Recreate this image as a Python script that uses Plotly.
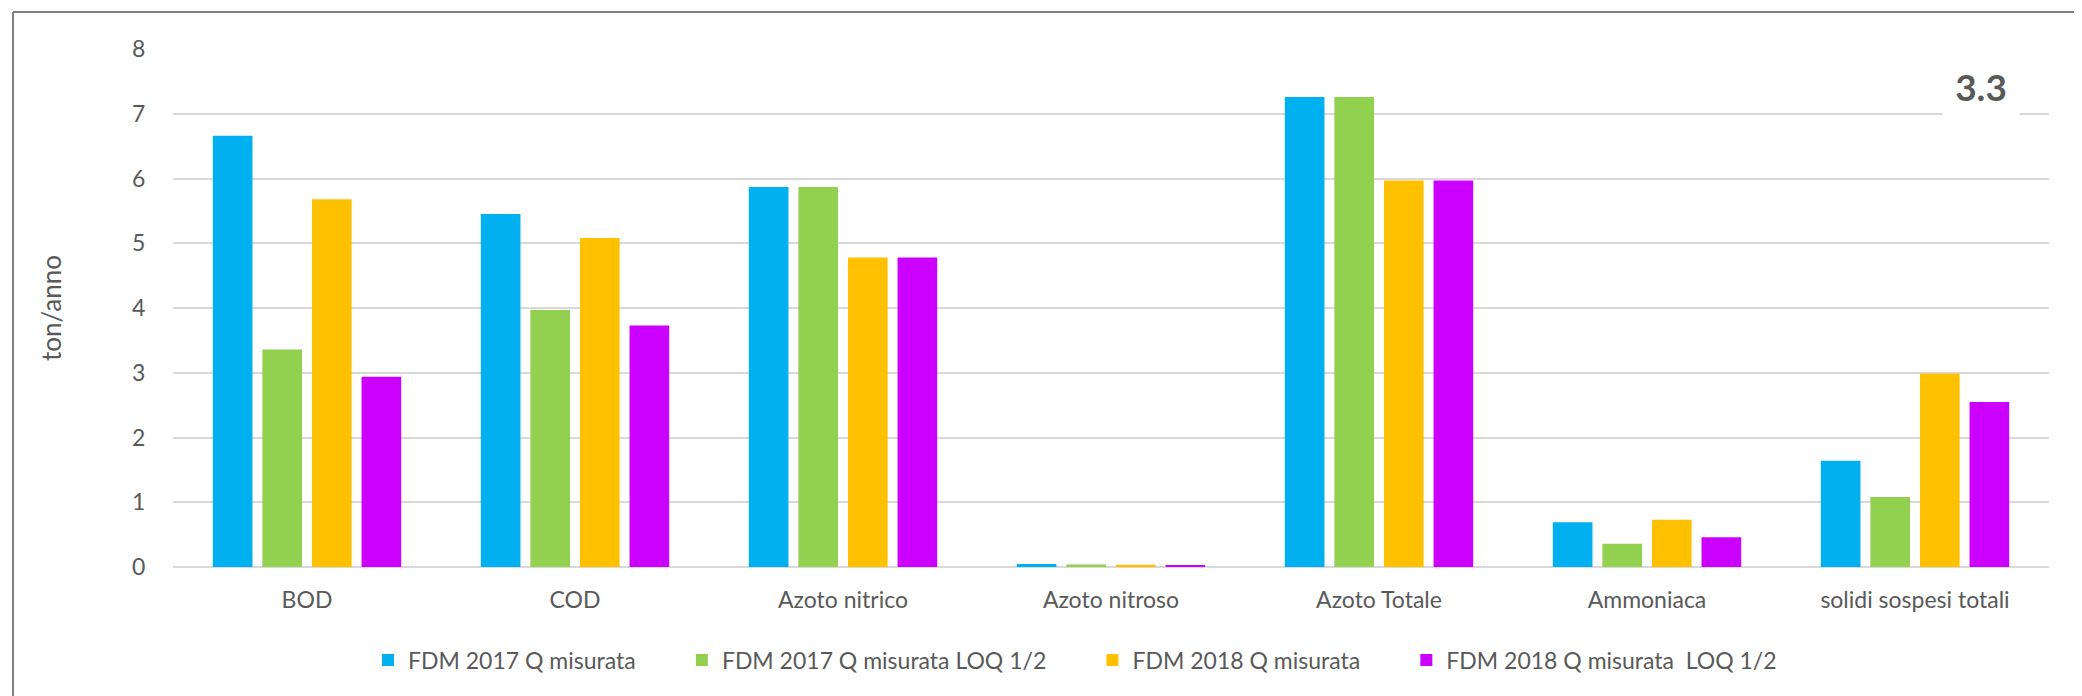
import plotly.graph_objects as go

categories = ["BOD", "COD", "Azoto nitrico", "Azoto nitroso", "Azoto Totale", "Ammoniaca", "solidi sospesi totali"]
series_names = ["FDM 2017 Q misurata", "FDM 2017 Q misurata LOQ 1/2", "FDM 2018 Q misurata", "FDM 2018 Q misurata\u00a0 LOQ 1/2"]
fdm2017 = [6.66, 5.45, 5.87, 0.045, 7.26, 0.69, 1.64]
fdm2017_loq = [3.36, 3.97, 5.87, 0.04, 7.26, 0.36, 1.08]
fdm2018 = [5.68, 5.08, 4.78, 0.035, 5.97, 0.73, 2.99]
fdm2018_loq = [2.94, 3.73, 4.78, 0.03, 5.97, 0.46, 2.55]
colors = ["#00B0F0", "#92D050", "#FFC000", "#CC00FF"]
y_ticks = [0, 1, 2, 3, 4, 5, 6, 7, 8]
badge_text = "3.3"

FONT = "Lato"
TXT = "#595959"
PAD = "\u00a0" * 7  # extra spacing between legend entries

fig = go.Figure()
n_series = len(series_names)
for i, (name, vals, col) in enumerate(zip(series_names, [fdm2017, fdm2017_loq, fdm2018, fdm2018_loq], colors)):
    label = name + (PAD if i < n_series - 1 else "")
    fig.add_trace(go.Bar(x=categories, y=vals, name=label, marker=dict(color=col, line=dict(width=0))))

# page body has an 8px margin; work in page coordinates and convert
OFF = 8
W, H = 2082, 696
plot_left, plot_right, plot_top, plot_bottom = 173, 2049, 49, 567  # page px
ml = plot_left - OFF
mt = plot_top - OFF
mr = W - (plot_right - OFF)
mb = H - (plot_bottom - OFF)
pw, ph = plot_right - plot_left, plot_bottom - plot_top

def px_x(x):
    return (x - plot_left) / pw

def px_y(y):
    return (plot_bottom - y) / ph

fig.update_layout(
    width=W, height=H,
    margin=dict(l=ml, r=mr, t=mt, b=mb),
    paper_bgcolor="white", plot_bgcolor="white",
    font=dict(family=FONT, size=23, color=TXT),
    barmode="group", bargap=0.26, bargroupgap=0.2,
    showlegend=True,
    legend=dict(orientation="h", xref="container", yref="container",
                x=(1075 - OFF) / W, xanchor="center",
                y=1 - (660 - OFF) / H, yanchor="middle", font=dict(size=23, color=TXT),
                traceorder="normal"),
    xaxis=dict(showgrid=False, showline=False, ticks="outside", ticklen=12,
               tickcolor="rgba(0,0,0,0)", tickfont=dict(size=23, color=TXT)),
    yaxis=dict(range=[0, 8], tickvals=y_ticks, showgrid=True, gridcolor="#D9D9D9", gridwidth=1.5,
               zeroline=True, zerolinecolor="#D9D9D9", zerolinewidth=2,
               ticks="outside", ticklen=22, tickcolor="rgba(0,0,0,0)",
               tickfont=dict(size=23, color=TXT),
               title=dict(text="ton/anno", font=dict(size=26, color=TXT), standoff=62)),
)

# "3.3" badge
fig.add_annotation(x=px_x(1981), y=px_y(86), xref="paper", yref="paper",
                   text="<b>" + badge_text + "</b>", showarrow=False,
                   font=dict(family=FONT, size=37, color=TXT),
                   bgcolor="white", width=74, height=56,
                   xanchor="center", yanchor="middle")

# chart-area border (left and top visible)
fig.add_shape(type="line", xref="paper", yref="paper",
              x0=px_x(13), x1=px_x(13), y0=px_y(H + 20), y1=px_y(12),
              line=dict(color="#808080", width=2))
fig.add_shape(type="line", xref="paper", yref="paper",
              x0=px_x(13), x1=px_x(W + 20), y0=px_y(12), y1=px_y(12),
              line=dict(color="#808080", width=2))

fig.write_html("out.html")
